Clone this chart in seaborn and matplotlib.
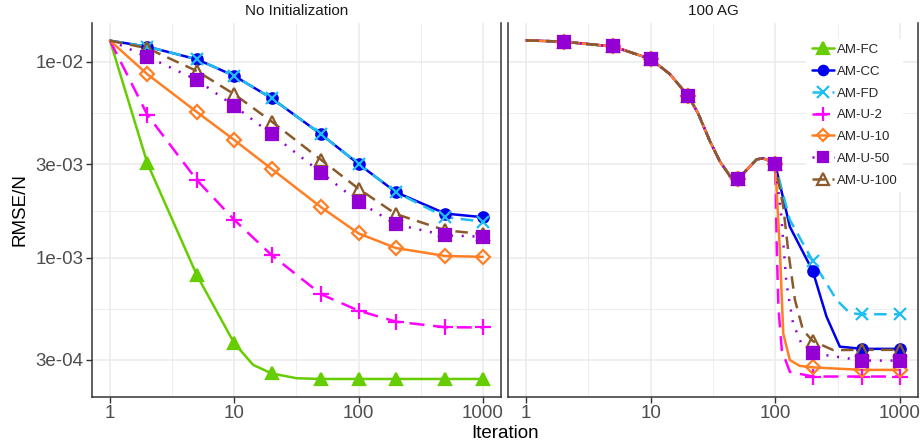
import numpy as np
import pandas as pd
import matplotlib
matplotlib.use("Agg")
import matplotlib.pyplot as plt
from matplotlib.lines import Line2D
import seaborn as sns

sns.set_style("whitegrid")
plt.rcParams['font.family'] = ['Liberation Sans', 'DejaVu Sans']

# marker positions (iterations)
iters = [2, 5, 10, 20, 50, 100, 200, 500, 1000]
base_x = [1, 2, 5, 10, 20, 50, 100, 200, 500, 1000]

# ---- panel 1: No Initialization ----
ni_fc_x = [1, 2, 5, 10, 14.2, 20, 31.8, 50, 100, 200, 500, 1000]
ni_fc_y = [0.01285, 3.03e-3, 8.13e-4, 3.65e-4, 2.83e-4, 2.56e-4, 2.42e-4, 2.40e-4, 2.40e-4, 2.40e-4, 2.40e-4, 2.40e-4]
ni_cc_y = [0.01285, 0.01197, 0.01032, 8.49e-3, 6.52e-3, 4.27e-3, 3.01e-3, 2.16e-3, 1.68e-3, 1.61e-3]
ni_fd_y = [0.01285, 0.01197, 0.01032, 8.49e-3, 6.52e-3, 4.27e-3, 3.01e-3, 2.16e-3, 1.61e-3, 1.53e-3]
ni_u2_y = [0.01285, 5.36e-3, 2.49e-3, 1.56e-3, 1.03e-3, 6.5e-4, 5.36e-4, 4.71e-4, 4.41e-4, 4.40e-4]
ni_u10_y = [0.01285, 8.65e-3, 5.55e-3, 3.99e-3, 2.84e-3, 1.81e-3, 1.33e-3, 1.12e-3, 1.02e-3, 1.01e-3]
ni_u50_y = [0.01285, 0.01064, 8.09e-3, 5.96e-3, 4.28e-3, 2.72e-3, 1.93e-3, 1.48e-3, 1.30e-3, 1.28e-3]
ni_u100_y = [0.01285, 0.01175, 8.99e-3, 6.84e-3, 4.96e-3, 3.16e-3, 2.25e-3, 1.67e-3, 1.38e-3, 1.32e-3]

# ---- panel 2: 100 AG (all methods share the path up to 100) ----
ag_shared_x = [1, 2, 5, 10, 14.2, 20, 24, 30, 36, 44.5, 50, 59, 71, 80, 90, 100]
ag_shared_y = [0.0129, 0.0127, 0.0120, 0.01036, 8.69e-3, 6.72e-3, 5.47e-3, 3.92e-3, 3.10e-3, 2.55e-3,
               2.52e-3, 2.81e-3, 3.18e-3, 3.22e-3, 3.12e-3, 3.0e-3]
ag_cc_x = [131, 200, 258, 330, 500, 1000]
ag_cc_y = [1.44e-3, 8.55e-4, 5.0e-4, 3.51e-4, 3.42e-4, 3.42e-4]
ag_fd_x = [131, 200, 311, 398, 500, 1000]
ag_fd_y = [1.56e-3, 9.62e-4, 6.08e-4, 5.2e-4, 5.14e-4, 5.14e-4]
ag_u2_x = [103, 106, 113, 131, 200, 500, 1000]
ag_u2_y = [1.1e-3, 5.6e-4, 3.37e-4, 2.61e-4, 2.47e-4, 2.47e-4, 2.47e-4]
ag_u10_x = [109, 116, 131, 157, 200, 500, 1000]
ag_u10_y = [1.09e-3, 4.1e-4, 3.0e-4, 2.8e-4, 2.75e-4, 2.67e-4, 2.67e-4]
ag_u50_x = [112, 123, 139, 162, 200, 500, 1000]
ag_u50_y = [1.62e-3, 7.4e-4, 4.62e-4, 3.65e-4, 3.25e-4, 2.98e-4, 2.98e-4]
ag_u100_x = [116, 127, 144, 167, 200, 292, 500, 1000]
ag_u100_y = [1.82e-3, 1.09e-3, 6.08e-4, 4.27e-4, 3.75e-4, 3.37e-4, 3.38e-4, 3.38e-4]

methods = ['AM-FC', 'AM-CC', 'AM-FD', 'AM-U-2', 'AM-U-10', 'AM-U-50', 'AM-U-100']
colors = {'AM-FC': '#66CD00', 'AM-CC': '#0000EE', 'AM-FD': '#1EBFF0', 'AM-U-2': '#FF00FF',
          'AM-U-10': '#FF7F24', 'AM-U-50': '#9400D3', 'AM-U-100': '#8B5A2B'}
dashes = {'AM-FC': '-', 'AM-CC': '-', 'AM-FD': (0, (5, 3)), 'AM-U-2': (0, (6, 3.5)),
          'AM-U-10': '-', 'AM-U-50': (0, (0.8, 3.5)), 'AM-U-100': (0, (5, 3))}
# marker, size, filled
mstyle = {'AM-FC': ('^', 9, True), 'AM-CC': ('o', 7.5, True), 'AM-FD': ('x', 9, False),
          'AM-U-2': ('+', 11, False), 'AM-U-10': ('D', 7, False), 'AM-U-50': ('s', 8, True),
          'AM-U-100': ('^', 9, False)}

panel1 = {
    'AM-FC': (ni_fc_x, ni_fc_y),
    'AM-CC': (base_x, ni_cc_y),
    'AM-FD': (base_x, ni_fd_y),
    'AM-U-2': (base_x, ni_u2_y),
    'AM-U-10': (base_x, ni_u10_y),
    'AM-U-50': (base_x, ni_u50_y),
    'AM-U-100': (base_x, ni_u100_y),
}
panel2 = {
    'AM-CC': (ag_shared_x + ag_cc_x, ag_shared_y + ag_cc_y),
    'AM-FD': (ag_shared_x + ag_fd_x, ag_shared_y + ag_fd_y),
    'AM-U-2': (ag_shared_x + ag_u2_x, ag_shared_y + ag_u2_y),
    'AM-U-10': (ag_shared_x + ag_u10_x, ag_shared_y + ag_u10_y),
    'AM-U-50': (ag_shared_x + ag_u50_x, ag_shared_y + ag_u50_y),
    'AM-U-100': (ag_shared_x + ag_u100_x, ag_shared_y + ag_u100_y),
}

fig = plt.figure(figsize=(9.24, 4.45), dpi=100)
W, H = 924, 445
ax1 = fig.add_axes([92 / W, 1 - 397 / H, (501 - 92) / W, (397 - 23) / H])
ax2 = fig.add_axes([508 / W, 1 - 397 / H, (918 - 508) / W, (397 - 23) / H])


def draw_panel(ax, data):
    for m in methods:
        if m not in data:
            continue
        x, y = data[m]
        df = pd.DataFrame({'x': x, 'y': y})
        sns.lineplot(data=df, x='x', y='y', ax=ax, color=colors[m], linestyle=dashes[m],
                     linewidth=1.8, estimator=None, sort=True, zorder=3)
        pts = df[df['x'].isin(iters)]
        mk, ms, filled = mstyle[m]
        z = 6 if m == 'AM-U-50' else 5
        ax.plot(pts['x'], pts['y'], linestyle='none', marker=mk, markersize=ms,
                color=colors[m], markerfacecolor=colors[m] if filled else 'none',
                markeredgewidth=1.6, zorder=z)


draw_panel(ax1, panel1)
draw_panel(ax2, panel2)

yticks = [3e-4, 1e-3, 3e-3, 1e-2]
ylabels = ['3e-04', '1e-03', '3e-03', '1e-02']
yminor = [np.sqrt(3e-4 * 1e-3), np.sqrt(1e-3 * 3e-3), np.sqrt(3e-3 * 1e-2)]
xticks = [1, 10, 100, 1000]
xminor = [10 ** 0.5, 10 ** 1.5, 10 ** 2.5]

for ax in (ax1, ax2):
    ax.set_xscale('log')
    ax.set_yscale('log')
    ax.set_xlim(0.716, 1400)
    ax.set_ylim(1.941e-4, 0.01582)
    ax.set_xticks(xticks)
    ax.set_xticklabels(['1', '10', '100', '1000'])
    ax.set_xticks(xminor, minor=True)
    ax.set_yticks(yticks)
    ax.set_yticklabels(ylabels)
    ax.set_yticks(yminor, minor=True)
    ax.grid(True, which='major', color='#EBEBEB', linewidth=1.1)
    ax.grid(True, which='minor', color='#EBEBEB', linewidth=0.6)
    ax.set_facecolor('white')
    ax.set_xlabel('')
    ax.set_ylabel('')
    for s in ('left', 'bottom', 'right'):
        ax.spines[s].set_visible(True)
        ax.spines[s].set_color('#333333')
        ax.spines[s].set_linewidth(1.1)
    ax.spines['top'].set_visible(False)
    ax.tick_params(axis='both', which='major', direction='out', length=4, width=1,
                   color='#333333', labelsize=13.5, labelcolor='#4D4D4D', pad=2,
                   left=True, bottom=True)
    ax.tick_params(axis='both', which='minor', length=0)

ax2.tick_params(axis='y', which='major', left=False, labelleft=False)

ax1.set_title('No Initialization', fontsize=11, color='#1A1A1A', pad=6)
ax2.set_title('100 AG', fontsize=11, color='#1A1A1A', pad=6)

fig.text(505 / W, 1 - 433 / H, 'Iteration', ha='center', va='center', fontsize=13.5, color='black')
fig.text(20 / W, 1 - 210 / H, 'RMSE/N', ha='center', va='center', rotation=90,
         fontsize=13.5, color='black')

handles = []
for m in methods:
    mk, ms, filled = mstyle[m]
    handles.append(Line2D([], [], color=colors[m], linestyle=dashes[m], linewidth=1.8,
                          marker=mk, markersize=ms * 0.9,
                          markerfacecolor=colors[m] if filled else 'none', markeredgewidth=1.6))
leg = ax2.legend(handles, methods, loc='upper right', bbox_to_anchor=(910 / W, 1 - 32 / H),
                 bbox_transform=fig.transFigure, fontsize=9.5, frameon=True, facecolor='white',
                 edgecolor='none', framealpha=1, handlelength=1.7, handletextpad=0.25,
                 labelspacing=0.72, borderpad=0.4)
leg.set_zorder(10)

fig.savefig('out.png', dpi=100)
